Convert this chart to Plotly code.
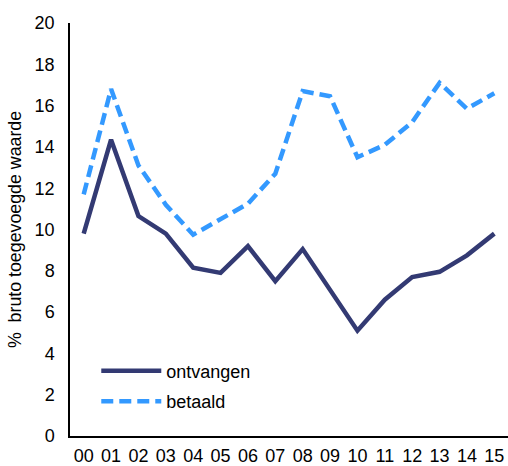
import plotly.graph_objects as go

years = ["00", "01", "02", "03", "04", "05", "06", "07", "08", "09",
         "10", "11", "12", "13", "14", "15"]
ontvangen = [9.8, 14.35, 10.65, 9.8, 8.15, 7.9, 9.2, 7.5, 9.05, 7.05,
             5.1, 6.6, 7.7, 7.95, 8.75, 9.8]
betaald = [11.7, 16.8, 13.1, 11.2, 9.75, 10.5, 11.25, 12.7, 16.7, 16.45,
           13.5, 14.1, 15.2, 17.1, 15.85, 16.6]

FONT = "Liberation Sans, Arial, sans-serif"

fig = go.Figure()
fig.add_trace(go.Scatter(x=years, y=ontvangen, name="ontvangen", mode="lines",
                         legendgroup="a",
                         line=dict(color="#333a73", width=4.5)))
fig.add_trace(go.Scatter(x=years, y=betaald, name="betaald", mode="lines",
                         legendgroup="b",
                         line=dict(color="#3399ff", width=4.5, dash="12px,6px")))

fig.update_layout(
    width=508, height=466,
    margin=dict(l=70, r=0, t=23, b=30),
    paper_bgcolor="white", plot_bgcolor="white",
    font=dict(family=FONT, size=18, color="black"),
    showlegend=True,
    legend=dict(x=0.06, y=0.202, xanchor="left", yanchor="top",
                bgcolor="rgba(0,0,0,0)", font=dict(size=18),
                traceorder="grouped", tracegroupgap=4, itemwidth=60),
)
fig.update_xaxes(type="category", range=[-0.5, 15.5], showline=True,
                 linecolor="black", linewidth=1.5, ticks="", showgrid=False,
                 tickfont=dict(size=18), zeroline=False, ticklabelstandoff=3,
                 automargin=False)
fig.update_yaxes(range=[0, 20], dtick=2, showline=True, linecolor="black",
                 linewidth=1.5, ticks="", showgrid=False, zeroline=False,
                 tickfont=dict(size=18), ticklabelstandoff=10, automargin=False,
                 title=dict(text="%  bruto toegevoegde waarde",
                            font=dict(size=17.8), standoff=8))

# drop the default body margin so the figure fills the window exactly
fig.write_html("out.html", config={"displayModeBar": False},
               post_script="document.body.style.margin='0';")
